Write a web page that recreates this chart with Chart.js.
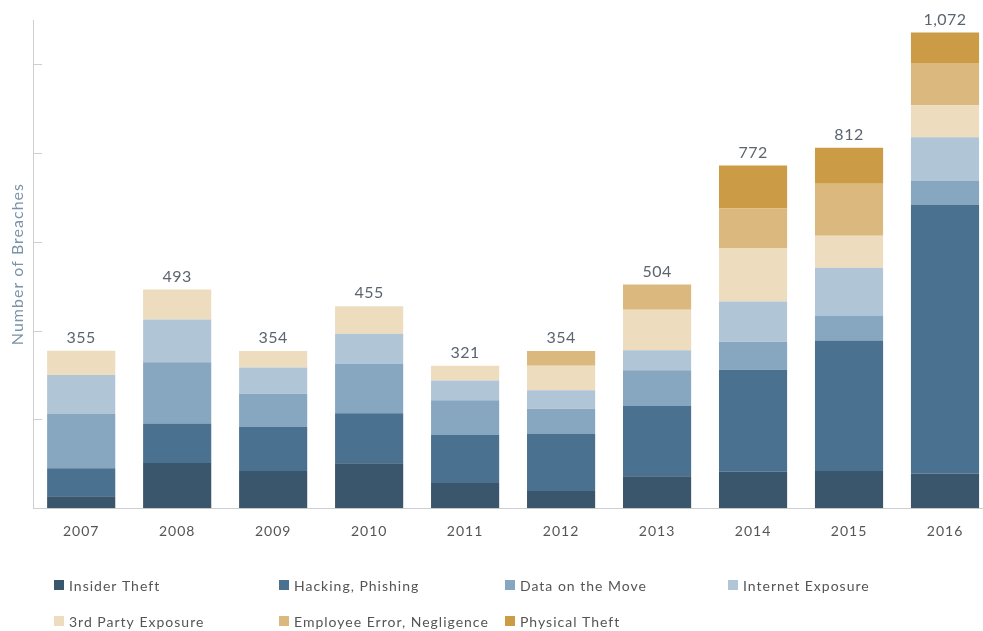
<!DOCTYPE html>
<html>
<head>
<meta charset="utf-8">
<script src="https://cdn.jsdelivr.net/npm/chart.js@4"></script>
<style>
  html, body { margin: 0; padding: 0; background: #fff; overflow: hidden; }
  #wrap { width: 1000px; height: 631px; }
</style>
</head>
<body>
<div id="wrap"><canvas id="chart" width="1000" height="631"></canvas></div>
<script>
// Годы и число утечек по типам
const years = ["2007", "2008", "2009", "2010", "2011", "2012", "2013", "2014", "2015", "2016"];
const insiderTheft = [27, 102, 84, 101, 57, 39, 72, 82, 84, 78];
const hacking = [63, 89, 99, 113, 108, 128, 158, 230, 294, 605];
const dataOnMove = [122, 138, 75, 111, 78, 57, 81, 63, 56, 54];
const internetExposure = [88, 96, 59, 68, 45, 42, 45, 91, 108, 99];
const thirdParty = [55, 68, 37, 62, 33, 55, 91, 120, 72, 72];
const employeeError = [0, 0, 0, 0, 0, 33, 57, 89, 117, 95];
const physicalTheft = [0, 0, 0, 0, 0, 0, 0, 97, 81, 69];
const totals = [355, 493, 354, 455, 321, 354, 504, 772, 812, 1072];
const yTicks = [200, 400, 600, 800, 1000];

const series = [
  { label: "Insider Theft", data: insiderTheft, color: "#3a566d" },
  { label: "Hacking, Phishing", data: hacking, color: "#4b7190" },
  { label: "Data on the Move", data: dataOnMove, color: "#87a7c1" },
  { label: "Internet Exposure", data: internetExposure, color: "#b0c6d7" },
  { label: "3rd Party Exposure", data: thirdParty, color: "#eddcbd" },
  { label: "Employee Error, Negligence", data: employeeError, color: "#dbb87e" },
  { label: "Physical Theft", data: physicalTheft, color: "#cc9b45" },
];

const FONT = "Lato, 'Open Sans', sans-serif";

// Разрядка букв для всех подписей
const spacing = {
  id: "spacing",
  beforeDraw(chart) { chart.ctx.letterSpacing = "1px"; },
  afterDraw(chart) { chart.ctx.letterSpacing = "0px"; },
};

// Засечки оси Y внутрь области графика
const innerTicks = {
  id: "innerTicks",
  afterDraw(chart) {
    const { ctx, chartArea, scales } = chart;
    ctx.save();
    ctx.strokeStyle = "#cfcfcf";
    ctx.lineWidth = 1;
    yTicks.forEach((v) => {
      const y = Math.round(scales.y.getPixelForValue(v)) + 0.5;
      ctx.beginPath();
      ctx.moveTo(chartArea.left, y);
      ctx.lineTo(chartArea.left + 9, y);
      ctx.stroke();
    });
    ctx.restore();
  },
};

// Итоги над столбцами
const totalLabels = {
  id: "totalLabels",
  afterDatasetsDraw(chart) {
    const { ctx, scales } = chart;
    ctx.save();
    ctx.letterSpacing = "0.5px";
    ctx.fillStyle = "#5b6570";
    ctx.font = "16px " + FONT;
    ctx.textAlign = "center";
    ctx.textBaseline = "bottom";
    totals.forEach((t, i) => {
      const x = scales.x.getPixelForValue(i);
      const y = scales.y.getPixelForValue(t);
      ctx.fillText(t.toLocaleString("en-US"), x, y - 5);
    });
    ctx.restore();
  },
};

// Легенда в две строки по колонкам
const gridLegend = {
  id: "gridLegend",
  afterDraw(chart) {
    const { ctx } = chart;
    const cols = [54, 279, 505, 728];
    const rows = [585, 621];
    ctx.save();
    ctx.letterSpacing = "1px";
    ctx.font = "14px " + FONT;
    ctx.textBaseline = "middle";
    chart.data.datasets.forEach((ds, i) => {
      const x = cols[i % 4];
      const y = rows[Math.floor(i / 4)];
      ctx.fillStyle = ds.backgroundColor;
      ctx.fillRect(x, y - 5, 10, 10);
      ctx.fillStyle = "#555";
      ctx.fillText(ds.label, x + 15, y + 1);
    });
    ctx.restore();
  },
};

new Chart(document.getElementById("chart"), {
  type: "bar",
  data: {
    labels: years,
    datasets: series.map((s) => ({
      label: s.label,
      data: s.data,
      backgroundColor: s.color,
      borderWidth: 0,
      categoryPercentage: 1,
      barPercentage: 0.71,
    })),
  },
  options: {
    responsive: false,
    animation: false,
    layout: { padding: { left: 8, top: 20, right: 7, bottom: 76 } },
    plugins: { legend: { display: false }, tooltip: { enabled: false } },
    scales: {
      x: {
        stacked: true,
        grid: { display: false, drawTicks: false },
        border: { display: true, color: "#cfcfcf" },
        ticks: { color: "#555", font: { family: FONT, size: 14 }, padding: 15 },
      },
      y: {
        stacked: true,
        min: 0,
        max: 1100,
        grid: { display: false, drawTicks: false },
        border: { display: true, color: "#cfcfcf" },
        ticks: { display: false },
        title: {
          display: true,
          text: "Number of Breaches",
          color: "#7a93a8",
          font: { family: FONT, size: 16 },
          padding: { top: 0, bottom: 6 },
        },
      },
    },
  },
  plugins: [spacing, innerTicks, totalLabels, gridLegend],
});
</script>
</body>
</html>
